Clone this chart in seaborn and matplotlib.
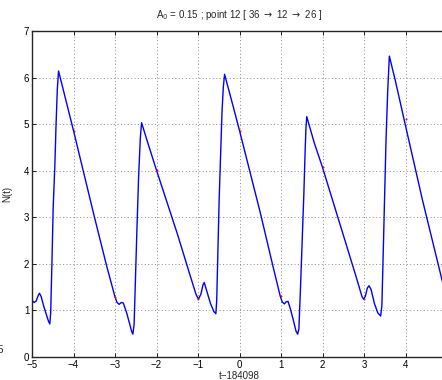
import matplotlib
matplotlib.use("Agg")
import matplotlib.pyplot as plt
import numpy as np
import pandas as pd
import seaborn as sns

# values (t - 184098, N(t))
t_vals = [
    -5.00, -4.95, -4.90, -4.85, -4.82, -4.78, -4.72, -4.65, -4.60, -4.57,
    -4.55, -4.52, -4.49, -4.45, -4.42, -4.39, -4.36, -4.00,
    -3.50, -3.20, -3.00, -2.95, -2.90, -2.85, -2.80, -2.72, -2.65, -2.60,
    -2.57, -2.54, -2.51, -2.47, -2.43, -2.39, -2.36, -2.20, -2.00, -1.50,
    -1.20, -1.05, -0.99, -0.93, -0.88, -0.85, -0.80, -0.70, -0.62, -0.57,
    -0.55, -0.52, -0.49, -0.45, -0.42, -0.39, -0.36, -0.15, 0.00,
    0.50, 0.80, 0.98, 1.03, 1.08, 1.13, 1.17, 1.22, 1.30, 1.36,
    1.40, 1.43, 1.47, 1.51, 1.55, 1.58, 1.60, 1.62, 1.80, 2.00,
    2.50, 2.80, 2.95, 2.99, 3.03, 3.08, 3.12, 3.17, 3.25, 3.33,
    3.40, 3.43, 3.47, 3.50, 3.53, 3.57, 3.61, 3.75, 3.96, 4.40,
    4.88, 5.00,
]
n_vals = [
    1.22, 1.17, 1.20, 1.32, 1.37, 1.30, 1.10, 0.90, 0.76, 0.71,
    0.95, 2.00, 3.20, 4.10, 5.00, 5.75, 6.14, 4.86,
    3.02, 1.95, 1.29, 1.17, 1.13, 1.17, 1.16, 0.95, 0.72, 0.55,
    0.49, 0.70, 1.60, 2.80, 3.90, 4.70, 5.03, 4.57, 4.01, 2.65,
    1.78, 1.35, 1.24, 1.35, 1.55, 1.60, 1.45, 1.15, 0.98, 0.93,
    1.20, 2.30, 3.40, 4.50, 5.30, 5.80, 6.07, 5.37, 4.86,
    3.10, 1.97, 1.31, 1.18, 1.14, 1.19, 1.19, 1.05, 0.78, 0.56,
    0.49, 0.60, 1.50, 2.50, 3.50, 4.40, 4.90, 5.16, 4.60, 4.07,
    2.62, 1.75, 1.30, 1.24, 1.30, 1.48, 1.53, 1.45, 1.15, 0.95,
    0.88, 1.10, 2.50, 3.60, 4.66, 5.70, 6.46, 5.95, 5.12, 3.40,
    1.65, 1.30,
]

# sample points marked in red (integer times)
mark_t = [-4, -3, -2, -1, 0, 1, 2, 3, 4]
mark_n = [4.86, 1.29, 4.01, 1.24, 4.86, 1.31, 4.07, 1.24, 5.12]

df = pd.DataFrame({"t": t_vals, "N": n_vals})
marks = pd.DataFrame({"t": mark_t, "N": mark_n})

sns.set_style("ticks")
plt.rcParams["font.family"] = ["Liberation Sans", "DejaVu Sans"]
plt.rcParams["xtick.direction"] = "in"
plt.rcParams["ytick.direction"] = "in"

fig = plt.figure(figsize=(4.42, 3.8), dpi=100)
ax = fig.add_axes([0.0724, 0.0605, 0.939, 0.858])

sns.lineplot(data=df, x="t", y="N", sort=False, estimator=None,
             color="#0000ff", linewidth=1.0, ax=ax)
sns.scatterplot(data=marks, x="t", y="N", color="red", s=2,
                linewidth=0, ax=ax, zorder=3)

ax.set_xlim(-5, 5)
ax.set_ylim(0, 7)
ax.set_xticks(np.arange(-5, 6, 1))
ax.set_yticks(np.arange(0, 8, 1))
ax.grid(True, linestyle=(0, (1, 2.5)), color="0.55", linewidth=0.7)
ax.tick_params(labelsize=7, length=3, width=0.6, pad=2,
               top=True, right=True, colors="black")
for s in ax.spines.values():
    s.set_linewidth(1.0)

ax.set_xlabel("t\u2212184098", fontsize=7, labelpad=1)
ax.set_ylabel("N(t)", fontsize=7, labelpad=8)
ax.set_title(r"A$_0$ = 0.15 ; point 12 [ 36 $\rightarrow$ 12 $\rightarrow$ 26 ]",
             fontsize=7, pad=9)

fig.text(0.007, 0.078, "5", fontsize=7, ha="right", va="center")

fig.savefig("out.png", dpi=100)
